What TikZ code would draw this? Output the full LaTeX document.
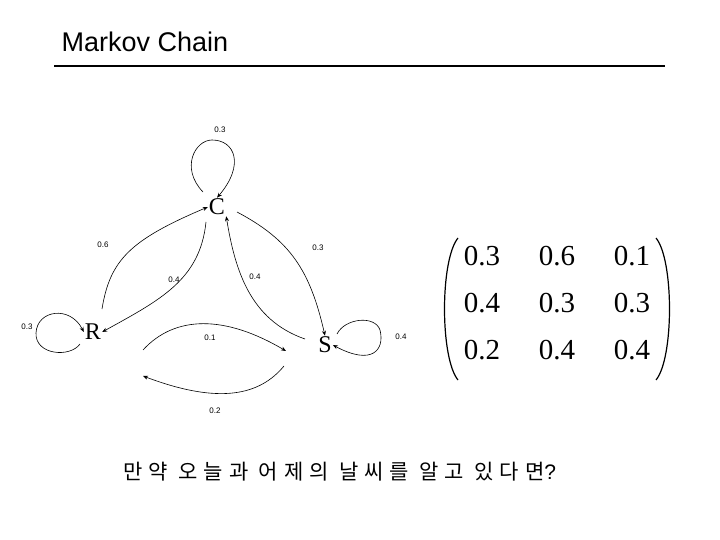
\documentclass[tikz,border=0pt]{standalone}
\usepackage{fontspec}
\setmainfont{Liberation Serif}
\newfontfamily\sansf{Liberation Sans}
\newfontfamily\kor[LetterSpace=28]{Noto Sans CJK KR}
\usetikzlibrary{arrows.meta}
\begin{document}
\begin{tikzpicture}[x=1pt,y=-1pt,
  edge/.style={-{Stealth[length=5pt,width=4pt]},line width=0.6pt},
  lbl/.style={font=\sansf\fontsize{8}{9}\selectfont,inner sep=0pt},
  st/.style={font=\fontsize{24}{25}\selectfont,inner sep=1pt},
  num/.style={font=\fontsize{29}{30}\selectfont,inner sep=0pt},
  paren/.style={line width=1.2pt}]
\useasboundingbox (0,0) rectangle (720,540);
\node[font=\sansf\fontsize{27}{30}\selectfont,anchor=west] (title) at (58,42) {Markov Chain};
\draw[line width=2.5pt] (54,66) coordinate (l1) -- (665,66) coordinate (l2);
\node[st] (C) at (217,207) {C};
\node[st] (R) at (93,332) {R};
\node[st] (S) at (325,345) {S};
% self loops
\draw[edge] (203,192) .. controls (180,168) and (195,140) .. (212,140) .. controls (235,140) and (245,165) .. (C.north);
\draw[edge] (80,344) .. controls (70,358) and (35,355) .. (36,333) .. controls (37,310) and (70,305) .. (R.west);
\draw[edge] (337,334) .. controls (345,318) and (375,315) .. (380,330) .. controls (385,350) and (372,366) .. (S.east);
\node[lbl] (l1a) at (220,130) {0.3};
\node[lbl] (l2a) at (27,327) {0.3};
\node[lbl] (l3a) at (401,337) {0.4};
% edges
\draw[edge] (102,309) .. controls (110,260) and (130,240) .. (C.west);
\draw[edge] (206,222) .. controls (200,280) and (160,300) .. (R.east);
\draw[edge] (305,339) .. controls (250,320) and (235,270) .. (C.south east);
\draw[edge] (237,212) .. controls (290,240) and (310,270) .. (S.north);
\node[lbl] (l4) at (103,245) {0.6};
\node[lbl] (l5) at (174,280) {0.4};
\node[lbl] (l6) at (255,277) {0.4};
\node[lbl] (l7) at (318,248) {0.3};
\coordinate (a1) at (143,350);
\coordinate (a2) at (286,351);
\coordinate (b1) at (284,366);
\coordinate (b2) at (143,376);
\draw[edge] (a1) .. controls (175,315) and (225,315) .. (a2);
\draw[edge] (b1) .. controls (260,395) and (220,405) .. (b2);
\node[lbl] (l8) at (210,338) {0.1};
\node[lbl] (l9) at (215,411) {0.2};
% matrix parentheses
\coordinate (lpt) at (458,238);
\coordinate (lpb) at (458,380);
\coordinate (rpt) at (656,238);
\coordinate (rpb) at (656,380);
\draw[paren] (lpt) .. controls (440,260) and (440,358) .. (lpb);
\draw[paren] (rpt) .. controls (674,260) and (674,358) .. (rpb);
\node[num] (m11) at (482,256) {0.3};
\node[num] (m12) at (557,256) {0.6};
\node[num] (m13) at (632,256) {0.1};
\node[num] (m21) at (482,303) {0.4};
\node[num] (m22) at (557,303) {0.3};
\node[num] (m23) at (632,303) {0.3};
\node[num] (m31) at (482,350) {0.2};
\node[num] (m32) at (557,350) {0.4};
\node[num] (m33) at (632,350) {0.4};
\node[font=\kor\fontsize{21}{24}\selectfont,anchor=west] (q) at (120,472) {만약 오늘과 어제의 날씨를 알고 있다면{\sansf ?}};
\end{tikzpicture}
\end{document}
